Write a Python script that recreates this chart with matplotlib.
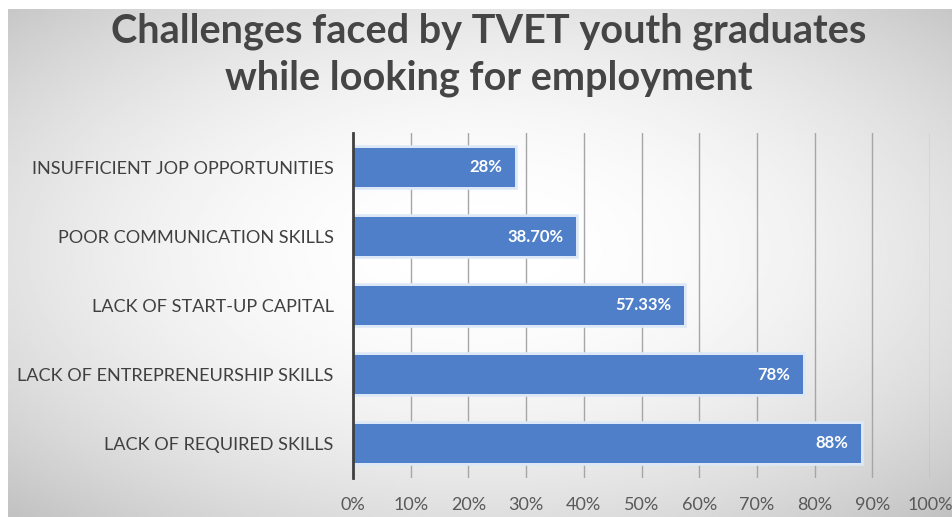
import matplotlib
matplotlib.use("Agg")
import matplotlib.pyplot as plt
import matplotlib.patheffects as pe
import numpy as np

# Survey results, top to bottom as shown on the chart
challenges = [
    "INSUFFICIENT JOP OPPORTUNITIES",
    "POOR COMMUNICATION SKILLS",
    "LACK OF START-UP CAPITAL",
    "LACK OF ENTREPRENEURSHIP SKILLS",
    "LACK OF REQUIRED SKILLS",
]
shares = [0.28, 0.387, 0.5733, 0.78, 0.88]
share_labels = ["28%", "38.70%", "57.33%", "78%", "88%"]
x_ticks = [0, 0.1, 0.2, 0.3, 0.4, 0.5, 0.6, 0.7, 0.8, 0.9, 1.0]
x_tick_labels = ["0%", "10%", "20%", "30%", "40%", "50%", "60%", "70%", "80%", "90%", "100%"]

plt.rcParams["font.family"] = ["Lato", "DejaVu Sans"]

W, H = 953, 517
fig = plt.figure(figsize=(W / 100, H / 100), dpi=100)
fig.patch.set_facecolor("white")

# radial grey-to-white fill behind the chart
bg = fig.add_axes([8 / W, 0, 1 - 8 / W, 1 - 9 / H], zorder=-10)
gx, gy = np.meshgrid(np.linspace(-1, 1, 400), np.linspace(-1, 1, 220))
r2 = gx ** 2 + (gy + 0.05) ** 2
shade = 1 - 0.115 * r2
bg.imshow(shade, cmap="gray", vmin=0, vmax=1, aspect="auto",
          extent=[0, 1, 0, 1], interpolation="bilinear")
bg.axis("off")

ax = fig.add_axes([353 / W, 1 - 478 / H, (930 - 353) / W, (478 - 133) / H])
ax.patch.set_alpha(0)

ypos = np.arange(len(challenges))
bars = ax.barh(ypos, shares, height=0.565, color="#4f7fc8", zorder=3)
for b in bars:
    b.set_path_effects([pe.withStroke(linewidth=4, foreground="#dde8f7"), pe.Normal()])

for y, v, lab in zip(ypos, shares, share_labels):
    ax.text(v - 0.022, y, lab, ha="right", va="center", color="white",
            fontsize=12, fontweight="bold", zorder=4)

ax.set_xlim(0, 1.0)
ax.set_ylim(len(challenges) - 0.5, -0.5)
ax.set_yticks(ypos)
ax.set_yticklabels(challenges, fontsize=13.1, color="#404040")
ax.set_xticks(x_ticks)
ax.set_xticklabels(x_tick_labels, fontsize=13, color="#595959")
ax.tick_params(axis="y", length=0, pad=14)
ax.tick_params(axis="x", length=0, pad=14)
ax.grid(axis="x", color="#a6a6a6", linewidth=1, zorder=1)
for s in ["top", "right", "bottom"]:
    ax.spines[s].set_visible(False)
ax.spines["left"].set_color("#404040")
ax.spines["left"].set_linewidth(2)
ax.spines["left"].set_zorder(5)

fig.text(489 / W, 1 - 55 / H, "Challenges faced by TVET youth graduates\nwhile looking for employment",
         ha="center", va="center", fontsize=28.5, fontweight="bold", color="#454545",
         linespacing=1.3)

fig.savefig("out.png", dpi=100)
